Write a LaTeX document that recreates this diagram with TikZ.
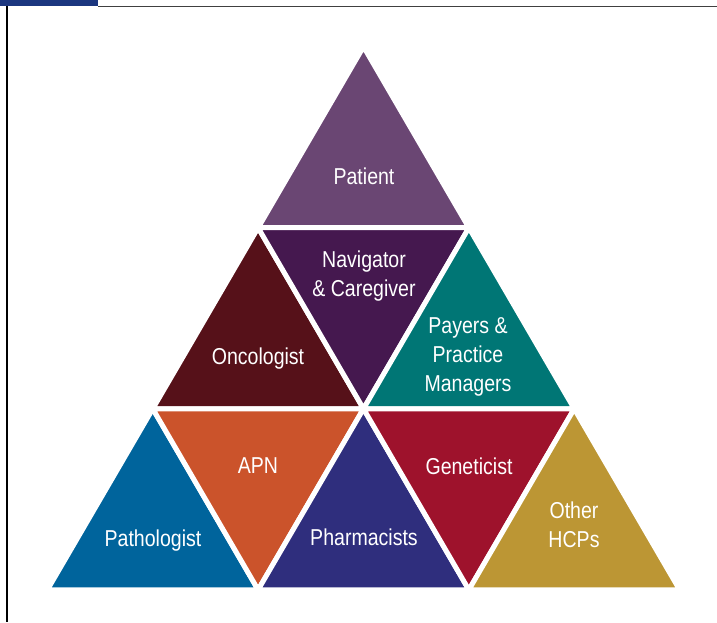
\documentclass[tikz,border=0pt]{standalone}
\usepackage{fontspec}
\newfontfamily\labelfont{Liberation Sans}[FakeStretch=0.85]
\begin{document}
\begin{tikzpicture}[x=1pt,y=-1pt,
  tile/.style={draw=white,line width=5pt,line join=miter},
  lbl/.style={text=white,align=center,inner sep=0pt,
    font=\labelfont\fontsize{23}{29}\selectfont}]
\definecolor{cPatient}{HTML}{6A4673}
\definecolor{cNavigator}{HTML}{45184F}
\definecolor{cOncologist}{HTML}{561119}
\definecolor{cPayers}{HTML}{007675}
\definecolor{cPathologist}{HTML}{00649C}
\definecolor{cAPN}{HTML}{CB532B}
\definecolor{cPharma}{HTML}{2F2E7D}
\definecolor{cGenet}{HTML}{9E122C}
\definecolor{cOther}{HTML}{BC9634}
\definecolor{cBar}{HTML}{1B367F}

\useasboundingbox (0,0) rectangle (717,622);

% page frame
\fill[cBar] (0,0) rectangle (98,6);
\draw[black!75,line width=1.8pt] (98,6.5) -- (717,6.5);
\draw[black,line width=1.4pt] (7,6) -- (7,622);

% triangular grid: rows of vertices
\coordinate (p00) at (363.5,46.7);
\coordinate (p10) at (258.13,227.73);
\coordinate (p11) at (468.87,227.73);
\coordinate (p20) at (152.77,408.77);
\coordinate (p21) at (363.5,408.77);
\coordinate (p22) at (574.23,408.77);
\coordinate (p30) at (47.4,589.8);
\coordinate (p31) at (258.13,589.8);
\coordinate (p32) at (468.87,589.8);
\coordinate (p33) at (679.6,589.8);

% tiles
\path[tile,fill=cPatient]     (p00) -- (p10) -- (p11) -- cycle;
\path[tile,fill=cOncologist]  (p10) -- (p20) -- (p21) -- cycle;
\path[tile,fill=cNavigator]   (p10) -- (p11) -- (p21) -- cycle;
\path[tile,fill=cPayers]      (p11) -- (p21) -- (p22) -- cycle;
\path[tile,fill=cPathologist] (p20) -- (p30) -- (p31) -- cycle;
\path[tile,fill=cAPN]         (p20) -- (p21) -- (p31) -- cycle;
\path[tile,fill=cPharma]      (p21) -- (p31) -- (p32) -- cycle;
\path[tile,fill=cGenet]       (p21) -- (p22) -- (p32) -- cycle;
\path[tile,fill=cOther]       (p22) -- (p32) -- (p33) -- cycle;

% labels
\node[lbl] (patient)    at (364,176) {Patient};
\node[lbl] (navigator)  at (364,276) {Navigator\\\& Caregiver};
\node[lbl] (oncologist) at (258,359) {Oncologist};
\node[lbl] (payers)     at (468,357) {Payers \&\\Practice\\Managers};
\node[lbl] (apn)        at (258,466) {APN};
\node[lbl] (geneticist) at (469,466) {Geneticist};
\node[lbl] (pathologist) at (153,541) {Pathologist};
\node[lbl] (pharmacists) at (364,537) {Pharmacists};
\node[lbl] (other)      at (574,525) {Other\\HCPs};
\end{tikzpicture}
\end{document}
